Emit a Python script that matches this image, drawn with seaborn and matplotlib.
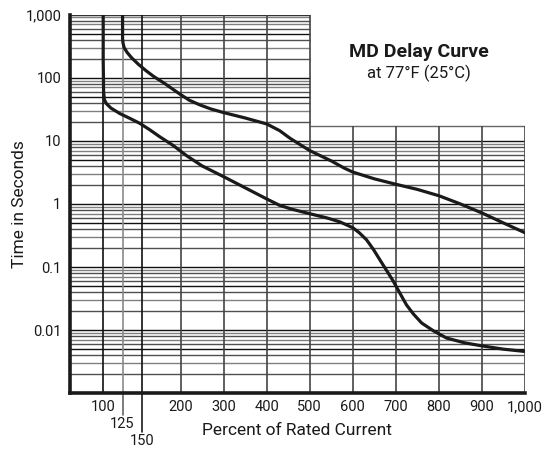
import numpy as np
import matplotlib
matplotlib.use("Agg")
import matplotlib.pyplot as plt
import seaborn as sns

# --- data ---
upper_x = [125, 125, 125, 125.5, 127, 131, 137, 145, 155, 165, 180, 199, 220, 245,
           270, 300, 350, 400, 430, 454, 480, 500, 550, 580, 600, 650, 700, 750,
           800, 850, 900, 950, 1000]
upper_y = [1000, 600, 420, 360, 300, 250, 205, 165, 130, 105, 80, 55, 44, 37,
           32, 28, 23, 18.5, 14.5, 11, 8.5, 7, 4.8, 3.7, 3.2, 2.5, 2.05, 1.7,
           1.35, 1.0, 0.72, 0.5, 0.35]

lower_x = [100, 100, 100.5, 101.5, 104, 110, 121.6, 135, 147, 160, 173, 190, 214,
           250, 300, 350, 400, 430, 460, 500, 540, 570, 600, 615, 632, 648, 663,
           680, 694, 710, 725, 741, 760, 787, 818, 860, 896, 950, 1000]
lower_y = [1000, 200, 60, 45, 39, 33, 27, 22.5, 19, 15, 11.6, 8.5, 5.8,
           4.0, 2.7, 1.8, 1.2, 0.95, 0.82, 0.7, 0.6, 0.52, 0.42, 0.35, 0.27, 0.19, 0.13,
           0.085, 0.06, 0.038, 0.025, 0.018, 0.013, 0.0098, 0.0075, 0.0063, 0.0057,
           0.005, 0.0046]

x_ticks = [100, 200, 300, 400, 500, 600, 700, 800, 900, 1000]
x_ticklabels = ["100", "200", "300", "400", "500", "600", "700", "800", "900", "1,000"]
y_ticks = [1000, 100, 10, 1, 0.1, 0.01]
y_ticklabels = ["1,000", "100", "10", "1", "0.1", "0.01"]
grid_x = [100, 125, 150, 200, 300, 400, 500, 600, 700, 800, 900, 1000]

X_MIN, X_MAX = 57, 1000
Y_MIN, Y_MAX = 0.001, 1000
SPLIT_X = 500    # grid only goes to the top left of this
RIGHT_TOP = 17   # top of the grid right of SPLIT_X

# --- style ---
sns.set_style("white")
plt.rcParams["font.family"] = ["Roboto", "DejaVu Sans"]
INK = "#1a1a1a"


# x axis is stretched below 200 (piecewise linear)
def fwd(x):
    x = np.asarray(x, dtype=float)
    return np.where(x < 200, 200 + (x - 200) * 1.8, x)


def inv(u):
    u = np.asarray(u, dtype=float)
    return np.where(u < 200, 200 + (u - 200) / 1.8, u)


fig = plt.figure(figsize=(5.46, 4.53), dpi=100)
ax = fig.add_axes([0.128, 0.1318, 0.8334, 0.836])
ax.set_xscale("function", functions=(fwd, inv))
ax.set_yscale("log")
ax.set_xlim(X_MIN, X_MAX)
ax.set_ylim(Y_MIN, Y_MAX)

# --- grid (drawn by hand because of its stepped outline) ---
for d in range(-3, 3):
    for k in range(1, 10):
        yv = k * 10.0 ** d
        if yv <= Y_MIN:
            continue
        right = X_MAX if yv <= RIGHT_TOP else SPLIT_X
        col = "#111111" if k in (1, 5) else ("#505050" if k % 2 == 0 else "#808080")
        ax.hlines(yv, X_MIN, right, color=col, lw=1.0, zorder=1)
ax.hlines(Y_MAX, X_MIN, SPLIT_X, color="#333333", lw=1.0, zorder=1)
ax.hlines(RIGHT_TOP, SPLIT_X, X_MAX, color="#666666", lw=1.0, zorder=1)
for xv in grid_x:
    top = Y_MAX if xv <= SPLIT_X else RIGHT_TOP
    col = "#8a8a8a" if xv == 125 else ("#111111" if xv in (100, 150) else "#444444")
    ax.vlines(xv, Y_MIN, top, color=col, lw=1.2, zorder=1)

# --- curves ---
sns.lineplot(x=upper_x, y=upper_y, ax=ax, estimator=None, sort=False,
             color=INK, lw=2.3, zorder=3)
sns.lineplot(x=lower_x, y=lower_y, ax=ax, estimator=None, sort=False,
             color=INK, lw=2.3, zorder=3)

# --- axes, ticks ---
for s in ["top", "right"]:
    ax.spines[s].set_visible(False)
for s in ["left", "bottom"]:
    ax.spines[s].set_color(INK)
    ax.spines[s].set_linewidth(2.6)
    ax.spines[s].set_zorder(4)

ax.set_xticks(x_ticks)
ax.set_xticklabels(x_ticklabels)
ax.set_yticks(y_ticks)
ax.set_yticklabels(y_ticklabels)
ax.minorticks_off()
ax.tick_params(axis="both", length=0, labelsize=10.5, colors=INK)
ax.tick_params(axis="x", pad=5)
ax.tick_params(axis="y", pad=6)

# the offset 125 / 150 labels hang below the axis on longer tick lines
xt = ax.get_xaxis_transform()
for xv, depth, lab in [(125, -0.057, "125"), (150, -0.101, "150")]:
    ax.plot([xv, xv], [0, depth], transform=xt, color="#666666" if xv == 125 else INK,
            lw=1.2, clip_on=False)
    ax.text(xv, depth - 0.006, lab, transform=xt, ha="center", va="top",
            fontsize=10.5, color=INK)

ax.set_xlabel("Percent of Rated Current", fontsize=12.5, color=INK, labelpad=6)
ax.set_ylabel("Time in Seconds", fontsize=12.5, color=INK)
ax.yaxis.set_label_coords(-0.095, 0.5)

fig.text(0.767, 0.885, "MD Delay Curve", ha="center", va="center",
         fontsize=14, fontweight="bold", color=INK)
fig.text(0.767, 0.837, "at 77°F (25°C)", ha="center", va="center",
         fontsize=12, color=INK)

fig.savefig("out.png", dpi=100)
